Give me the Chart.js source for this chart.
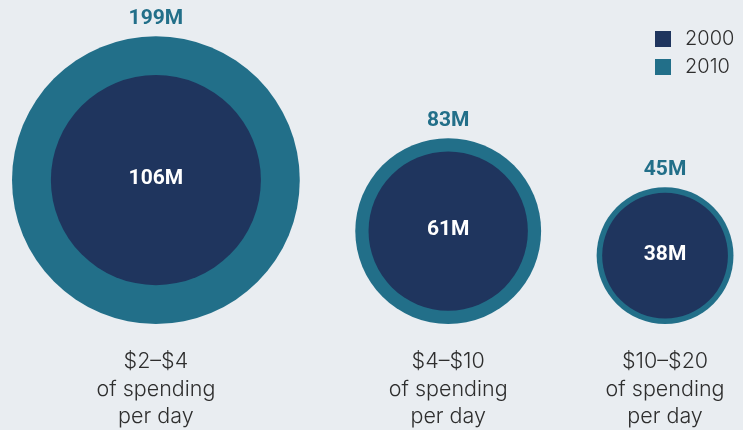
<!DOCTYPE html>
<html>
<head>
<meta charset="utf-8">
<script src="https://cdn.jsdelivr.net/npm/chart.js@4"></script>
<style>
  body { margin: 0; background: #e9edf1; }
  canvas { display: block; }
</style>
</head>
<body>
<canvas id="myChart" width="743" height="430"></canvas>
<script>
// data (millions of people)
const categories = ['$2–$4', '$4–$10', '$10–$20'];
const categorySub = ['of spending', 'per day'];
const seriesNames = ['2000', '2010'];
const pop2000 = [106, 61, 38];
const pop2010 = [199, 83, 45];

const navy = '#1f355e';
const teal = '#226f89';
const textColor = '#2e2e2e';

// layout: bubble area is proportional to value, bubbles sit on one baseline
const pxPerRoot = 10.2;
const leftEdge = 12;
const gap = 55.5;
const baseline = 106; // from bottom of canvas
const W = 743, H = 430;

function rad(v) { return pxPerRoot * Math.sqrt(v); }

let centers = [];
let cx = leftEdge;
pop2010.forEach((v, i) => {
    const r = rad(v);
    cx += r;
    centers.push(cx);
    cx += r + gap;
});

const outerPoints = pop2010.map((v, i) => ({ x: centers[i], y: baseline + rad(v), r: rad(v) }));
const innerPoints = pop2000.map((v, i) => ({ x: centers[i], y: baseline + rad(pop2010[i]), r: rad(v) }));

const labelPlugin = {
    id: 'labels',
    afterDatasetsDraw(chart) {
        const ctx = chart.ctx;
        const inner = chart.getDatasetMeta(0).data;
        const outer = chart.getDatasetMeta(1).data;
        ctx.save();
        ctx.textAlign = 'center';
        ctx.textBaseline = 'middle';
        outer.forEach((el, i) => {
            const r = el.options.radius;
            ctx.font = 'bold 21px Roboto';
            ctx.fillStyle = teal;
            ctx.fillText(pop2010[i] + 'M', el.x, el.y - r - 17);
            ctx.fillStyle = '#ffffff';
            ctx.fillText(pop2000[i] + 'M', inner[i].x, inner[i].y - 1);

            const bottom = el.y + r;
            ctx.font = '300 21.5px Inter';
            ctx.fillStyle = textColor;
            ctx.fillText(categories[i], el.x, bottom + 38);
            ctx.fillText(categorySub[0], el.x, bottom + 66);
            ctx.fillText(categorySub[1], el.x, bottom + 93);
        });

        // legend, top right
        ctx.textAlign = 'left';
        ctx.font = '300 20px Inter';
        chart.data.datasets.forEach((ds, i) => {
            const y = 39 + i * 28;
            ctx.fillStyle = ds.backgroundColor;
            ctx.fillRect(655, y - 8, 16, 16);
            ctx.fillStyle = textColor;
            ctx.fillText(ds.label, 685, y);
        });
        ctx.restore();
    }
};

const myChart = new Chart(document.getElementById('myChart'), {
    type: 'bubble',
    data: {
        datasets: [{
            label: seriesNames[0],
            data: innerPoints,
            backgroundColor: navy,
            borderWidth: 0,
            hoverBorderWidth: 0,
            hoverRadius: 0,
            clip: false
        }, {
            label: seriesNames[1],
            data: outerPoints,
            backgroundColor: teal,
            borderWidth: 0,
            hoverBorderWidth: 0,
            hoverRadius: 0,
            clip: false
        }]
    },
    options: {
        responsive: false,
        animation: false,
        events: [],
        layout: { padding: 0, autoPadding: false },
        scales: {
            x: { type: 'linear', display: false, min: 0, max: W },
            y: { type: 'linear', display: false, min: 0, max: H }
        },
        plugins: {
            legend: { display: false },
            tooltip: { enabled: false }
        }
    },
    plugins: [labelPlugin]
});
</script>
</body>
</html>
